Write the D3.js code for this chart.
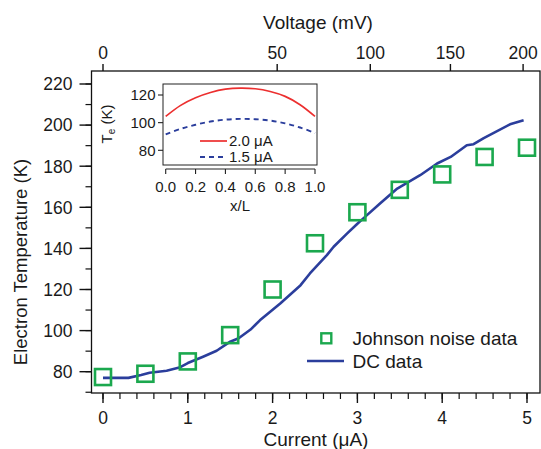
<!DOCTYPE html>
<html>
<head>
<meta charset="utf-8">
<script src="https://d3js.org/d3.v7.min.js"></script>
<style>
	body { margin: 0; background: #fff; }
	text { font-family: "Liberation Sans", Arial, sans-serif; fill: #1a1a1a; }
</style>
</head>
<body>
<script>
// Johnson noise data (squares)
var jnCurrent = [0, 0.5, 1, 1.5, 2, 2.5, 3, 3.5, 4, 4.5, 5];
var jnTemp = [77.4, 79, 85, 97.8, 120, 142.5, 157.6, 168.5, 176, 184.5, 189];

// DC data (line)
var dcCurrent = [0, 0.3, 0.45, 0.55, 0.75, 0.9, 1.0, 1.18, 1.34, 1.5, 1.6, 1.74, 1.85, 2.09, 2.33, 2.44, 2.64, 2.72, 2.88, 3.0, 3.07, 3.27, 3.47, 3.74, 3.94, 4.1, 4.29, 4.37, 4.49, 4.8, 4.96];
var dcTemp = [77, 77, 78.4, 79.5, 80.5, 82, 84.2, 87.3, 90.2, 94.6, 96.3, 100.5, 105, 113.2, 122.1, 127.8, 136.7, 140.8, 147.3, 152, 154.6, 162, 169.1, 175.6, 181.3, 184.5, 190.2, 190.7, 193.7, 200.4, 202.3];

// top axis: voltage labels and the current where they sit
var voltTicks = [0, 50, 100, 150, 200];
var voltAtCurrent = [0, 2.054, 3.152, 4.097, 4.954];

// inset profiles
var insetX = [0, 0.1, 0.2, 0.3, 0.4, 0.5, 0.6, 0.7, 0.8, 0.9, 1.0];
var profile20 = [104.5, 112.5, 118, 121.8, 124.2, 125, 124.5, 122.5, 119, 113, 104.5];
var profile15 = [91.5, 95.5, 98.5, 100.8, 102.2, 102.7, 102.5, 101.5, 99.5, 96.5, 92.5];

var xTicks = [0, 1, 2, 3, 4, 5];
var yTicks = [80, 100, 120, 140, 160, 180, 200, 220];
var insetXTicks = [0, 0.2, 0.4, 0.6, 0.8, 1.0];
var insetYTicks = [80, 100, 120];

var W = 541, H = 449;
var frame = {left: 91.5, right: 540, top: 71, bottom: 393};

var green = "#1ba84e", blue = "#2b3e9c", red = "#ec2f2f";

var svg = d3.select("body").append("svg")
	.attr("width", W)
	.attr("height", H);

var x = d3.scaleLinear().domain([0, 5]).range([103, 527]);
var y = d3.scaleLinear().domain([80, 220]).range([371.7, 84]);

// frame
svg.append("rect")
	.attr("x", frame.left).attr("y", frame.top)
	.attr("width", frame.right - frame.left).attr("height", frame.bottom - frame.top)
	.attr("fill", "none").attr("stroke", "#111").attr("stroke-width", 1.3);

// bottom axis
var bottomAxis = svg.append("g").attr("transform", "translate(0," + frame.bottom + ")");
bottomAxis.selectAll(".minor").data(d3.range(0, 5.01, 0.2)).enter().append("line")
	.attr("x1", function(d) { return x(d); }).attr("x2", function(d) { return x(d); })
	.attr("y1", 0).attr("y2", 6).attr("stroke", "#111").attr("stroke-width", 1.2);
bottomAxis.selectAll(".major").data(xTicks).enter().append("line")
	.attr("x1", function(d) { return x(d); }).attr("x2", function(d) { return x(d); })
	.attr("y1", 0).attr("y2", 10).attr("stroke", "#111").attr("stroke-width", 1.4);
bottomAxis.selectAll("text").data(xTicks).enter().append("text")
	.attr("x", function(d) { return x(d); }).attr("y", 31)
	.attr("text-anchor", "middle").attr("font-size", 17.5)
	.text(function(d) { return d; });
svg.append("text")
	.attr("x", 316).attr("y", 445.5).attr("text-anchor", "middle").attr("font-size", 19)
	.text("Current (\u03bcA)");

// left axis
var leftAxis = svg.append("g").attr("transform", "translate(" + frame.left + ",0)");
leftAxis.selectAll(".minor").data(d3.range(70, 221, 10)).enter().append("line")
	.attr("y1", function(d) { return y(d); }).attr("y2", function(d) { return y(d); })
	.attr("x1", 0).attr("x2", -6).attr("stroke", "#111").attr("stroke-width", 1.2);
leftAxis.selectAll(".major").data(yTicks).enter().append("line")
	.attr("y1", function(d) { return y(d); }).attr("y2", function(d) { return y(d); })
	.attr("x1", 0).attr("x2", -12).attr("stroke", "#111").attr("stroke-width", 1.4);
leftAxis.selectAll("text").data(yTicks).enter().append("text")
	.attr("x", -19).attr("y", function(d) { return y(d); })
	.attr("dy", "0.36em").attr("text-anchor", "end").attr("font-size", 17.5)
	.text(function(d) { return d; });
svg.append("text")
	.attr("transform", "translate(27,262) rotate(-90)")
	.attr("text-anchor", "middle").attr("font-size", 18.5)
	.text("Electron Temperature (K)");

// top axis (voltage)
var topAxis = svg.append("g").attr("transform", "translate(0," + frame.top + ")");
topAxis.selectAll("line").data(voltTicks).enter().append("line")
	.attr("x1", function(d, i) { return x(voltAtCurrent[i]); })
	.attr("x2", function(d, i) { return x(voltAtCurrent[i]); })
	.attr("y1", 0).attr("y2", -7).attr("stroke", "#111").attr("stroke-width", 1.4);
topAxis.selectAll("text").data(voltTicks).enter().append("text")
	.attr("x", function(d, i) { return x(voltAtCurrent[i]); }).attr("y", -12.5)
	.attr("text-anchor", "middle").attr("font-size", 17.5)
	.text(function(d) { return d; });
svg.append("text")
	.attr("x", 318).attr("y", 29).attr("text-anchor", "middle").attr("font-size", 19)
	.text("Voltage (mV)");

// DC line
var dc = dcCurrent.map(function(d, i) { return [d, dcTemp[i]]; });
svg.append("path")
	.datum(dc)
	.attr("fill", "none").attr("stroke", blue).attr("stroke-width", 2.6)
	.attr("stroke-linejoin", "round")
	.attr("d", d3.line().x(function(d) { return x(d[0]); }).y(function(d) { return y(d[1]); }));

// Johnson noise squares
var sq = 16;
svg.selectAll(".jn").data(jnCurrent).enter().append("rect")
	.attr("class", "jn")
	.attr("x", function(d) { return x(d) - sq / 2; })
	.attr("y", function(d, i) { return y(jnTemp[i]) - sq / 2; })
	.attr("width", sq).attr("height", sq)
	.attr("fill", "none").attr("stroke", green).attr("stroke-width", 2.6);

// legend
svg.append("rect")
	.attr("x", 326.3 - 5).attr("y", 338.3 - 5).attr("width", 10).attr("height", 10)
	.attr("fill", "none").attr("stroke", green).attr("stroke-width", 2.4);
svg.append("text").attr("x", 352.5).attr("y", 344.5).attr("font-size", 19).text("Johnson noise data");
svg.append("line")
	.attr("x1", 307).attr("x2", 344).attr("y1", 361).attr("y2", 361)
	.attr("stroke", blue).attr("stroke-width", 2.6);
svg.append("text").attr("x", 352.5).attr("y", 368).attr("font-size", 19).text("DC data");

// inset
var ix = d3.scaleLinear().domain([0, 1]).range([165.7, 315]);
var iy = d3.scaleLinear().domain([80, 120]).range([150.3, 95]);
var inset = {left: 163, right: 317, top: 84, bottom: 165};

svg.append("rect")
	.attr("x", inset.left).attr("y", inset.top)
	.attr("width", inset.right - inset.left).attr("height", inset.bottom - inset.top)
	.attr("fill", "#fff").attr("stroke", "#222").attr("stroke-width", 1);

svg.selectAll(".iyt").data(insetYTicks).enter().append("line")
	.attr("x1", inset.left).attr("x2", inset.left - 5)
	.attr("y1", function(d) { return iy(d); }).attr("y2", function(d) { return iy(d); })
	.attr("stroke", "#222").attr("stroke-width", 1.1);
svg.selectAll(".iyl").data(insetYTicks).enter().append("text")
	.attr("x", 155.5).attr("y", function(d) { return iy(d); }).attr("dy", "0.36em")
	.attr("text-anchor", "end").attr("font-size", 15)
	.text(function(d) { return d; });

var ibase = inset.bottom + 4;
svg.append("line")
	.attr("x1", ix(0)).attr("x2", ix(1)).attr("y1", ibase).attr("y2", ibase)
	.attr("stroke", "#222").attr("stroke-width", 1);
svg.selectAll(".ixt").data(insetXTicks).enter().append("line")
	.attr("x1", function(d) { return ix(d); }).attr("x2", function(d) { return ix(d); })
	.attr("y1", ibase).attr("y2", ibase + 5)
	.attr("stroke", "#222").attr("stroke-width", 1.1);
svg.selectAll(".ixl").data(insetXTicks).enter().append("text")
	.attr("x", function(d) { return ix(d); }).attr("y", 192)
	.attr("text-anchor", "middle").attr("font-size", 15)
	.text(function(d) { return d.toFixed(1); });
svg.append("text").attr("x", 240).attr("y", 210.5).attr("text-anchor", "middle")
	.attr("font-size", 15).text("x/L");

var yt = svg.append("text")
	.attr("transform", "translate(112,124) rotate(-90)")
	.attr("text-anchor", "middle").attr("font-size", 15);
yt.append("tspan").text("T");
yt.append("tspan").attr("font-size", 10).attr("dy", 3).text("e");
yt.append("tspan").attr("dy", -3).text(" (K)");

var iline = d3.line().x(function(d, i) { return ix(insetX[i]); }).y(function(d) { return iy(d); }).curve(d3.curveCatmullRom);
svg.append("path").datum(profile20)
	.attr("fill", "none").attr("stroke", red).attr("stroke-width", 1.7).attr("d", iline);
svg.append("path").datum(profile15)
	.attr("fill", "none").attr("stroke", blue).attr("stroke-width", 1.9)
	.attr("stroke-dasharray", "5,4").attr("d", iline);

svg.append("line").attr("x1", 200).attr("x2", 227).attr("y1", 141).attr("y2", 141)
	.attr("stroke", red).attr("stroke-width", 1.7);
svg.append("text").attr("x", 229).attr("y", 146).attr("font-size", 15).text("2.0 \u03bcA");
svg.append("line").attr("x1", 200).attr("x2", 227).attr("y1", 157).attr("y2", 157)
	.attr("stroke", blue).attr("stroke-width", 1.9).attr("stroke-dasharray", "5,4");
svg.append("text").attr("x", 229).attr("y", 162).attr("font-size", 15).text("1.5 \u03bcA");
</script>
</body>
</html>
